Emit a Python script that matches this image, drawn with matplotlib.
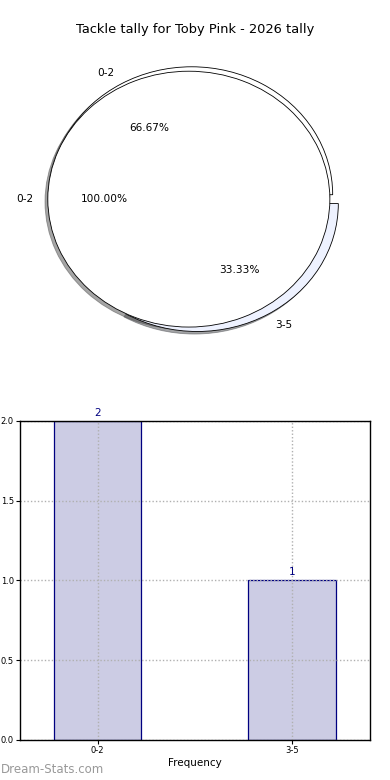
import matplotlib
matplotlib.use("Agg")
import matplotlib.pyplot as plt

title = "Tackle tally for Toby Pink - 2026 tally"
categories = ["0-2", "3-5"]
counts = [2, 1]
inner_labels = ["0-2"]
inner_counts = [2]

fig = plt.figure(figsize=(3.9, 7.8), dpi=100)
fig.text(0.5, 0.962, title, ha="center", va="center", fontsize=9.4)

# pie part (stretched, not circular)
shadow = dict(ox=-0.0144, oy=-0.0144)
ax1 = fig.add_axes([18.2 / 390, 0.5397, 0.904, 0.41])
ax1.pie(counts, labels=categories, colors=["white", "#eef2ff"],
        explode=[0.04, 0.04], autopct="%.2f%%", shadow=shadow,
        wedgeprops=dict(edgecolor="black", linewidth=0.6),
        textprops=dict(fontsize=7.6))
ax1.pie(inner_counts, labels=inner_labels, colors=["white"],
        explode=[0.04], autopct="%.2f%%", shadow=shadow,
        wedgeprops=dict(edgecolor="black", linewidth=0.6),
        textprops=dict(fontsize=7.6))
ax1.set_aspect("auto")
ax1.set_xlim(-1.25, 1.25)
ax1.set_ylim(-1.25, 1.25)

# bar part
ax2 = fig.add_axes([0.0513, 0.0513, 0.897, 0.409])
x = range(len(categories))
bars = ax2.bar(x, counts, width=0.45, color="#ccccE4", edgecolor="#000080", linewidth=0.9, zorder=2)
for xi, c in zip(x, counts):
    ax2.text(xi, c + 0.02, str(c), ha="center", va="bottom", color="#000080", fontsize=7.5)
ax2.set_xlim(-0.4, 1.4)
ax2.set_ylim(0, 2.0)
ax2.set_xticks(list(x))
ax2.set_xticklabels(categories)
ax2.set_yticks([0.0, 0.5, 1.0, 1.5, 2.0])
ax2.set_yticklabels(["0.0", "0.5", "1.0", "1.5", "2.0"])
ax2.tick_params(labelsize=6, length=3, width=0.8, pad=1.5)
ax2.grid(True, linestyle=(0, (1, 1.5)), color="#b0b0b0", linewidth=1, zorder=3)
ax2.set_axisbelow(False)
for s in ax2.spines.values():
    s.set_linewidth(1)
    s.set_zorder(4)
ax2.set_xlabel("Frequency", fontsize=7.5, labelpad=2)

fig.text(0.003, 0.0135, "Dream-Stats.com", fontsize=8.5, color="#999999", ha="left", va="center")

fig.savefig("out.png", dpi=100)
